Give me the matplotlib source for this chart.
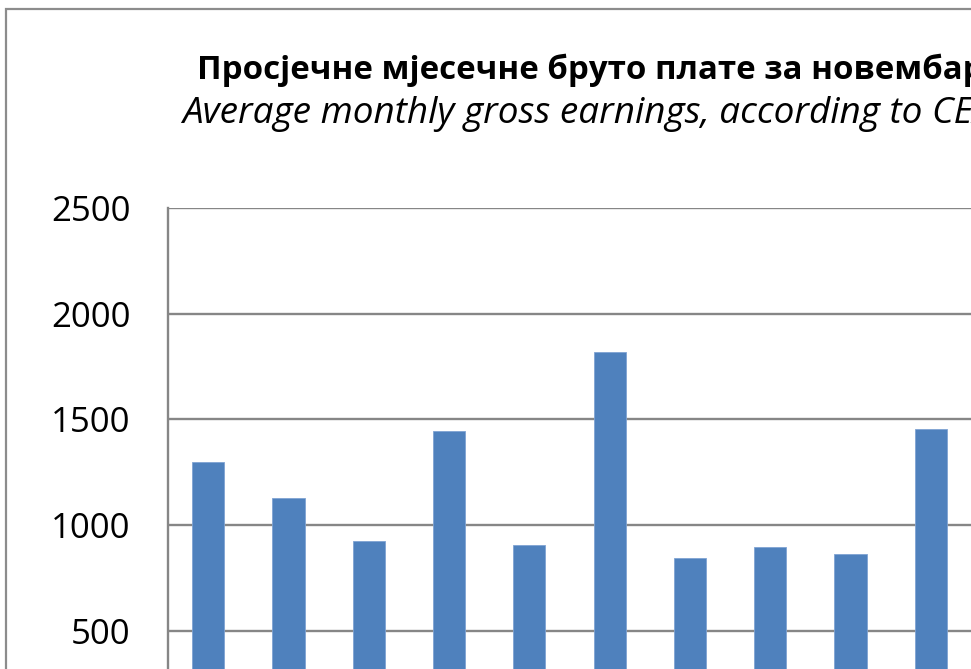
import matplotlib
matplotlib.use("Agg")
import matplotlib.pyplot as plt
from matplotlib.patches import Rectangle

# Data (visible portion of the chart)
categories = ["A", "B", "C", "D", "E", "F", "G", "H", "I", "J"]
values = [1301, 1130, 927, 1447, 908, 1821, 847, 899, 866, 1457]
yticks = [500, 1000, 1500, 2000, 2500]

title_sr = "Просјечне мјесечне бруто плате за новембар"
title_en = "Average monthly gross earnings, according to CEA"

plt.rcParams['font.family'] = ['Open Sans', 'DejaVu Sans']

W, H = 971, 669
fig = plt.figure(figsize=(W / 100, H / 100), dpi=100)
fig.patch.set_facecolor("white")

grid_c = "#868686"

# Axes placed so that the chart is cropped like the reference
left_px, top_px, zero_px = 168, 208, 736.75
ax = fig.add_axes([left_px / W, 1 - zero_px / H, 803 / W, (zero_px - top_px) / H])
x = list(range(len(categories)))
ax.bar(x, values, width=0.4, color="#4F81BD", edgecolor="#7FA3D3", linewidth=0.6, zorder=3)
ax.set_xlim(-0.5, len(categories) - 0.5)
ax.set_ylim(0, 2500)
ax.set_yticks(yticks)
ax.set_yticklabels([str(t) for t in yticks])
ax.set_xticks(x)
ax.set_xticklabels([])
ax.yaxis.grid(True, color=grid_c, linewidth=1.7, zorder=0)
ax.set_axisbelow(True)
for s in ["top", "right", "bottom"]:
    ax.spines[s].set_visible(False)
ax.spines["left"].set_color(grid_c)
ax.spines["left"].set_linewidth(1.7)
ax.tick_params(axis="y", length=0, pad=27, labelsize=25, colors="black")
ax.tick_params(axis="x", length=0)

# Titles (centred on the full chart, which extends beyond the crop)
fig.text(197 / W, 1 - 79 / H, title_sr, ha="left", va="baseline",
         fontsize=23.8, fontweight="bold", color="black")
fig.text(182 / W, 1 - 123 / H, title_en, ha="left", va="baseline",
         fontsize=26.6, fontstyle="italic", color="black")

# Outer chart-area border
fig.patches.append(Rectangle((6 / W, -0.5), 2.0, (1 - 9 / H) + 0.5,
                             transform=fig.transFigure, fill=False,
                             edgecolor="#8C8C8C", linewidth=1.6))

fig.savefig("out.png", dpi=100)
